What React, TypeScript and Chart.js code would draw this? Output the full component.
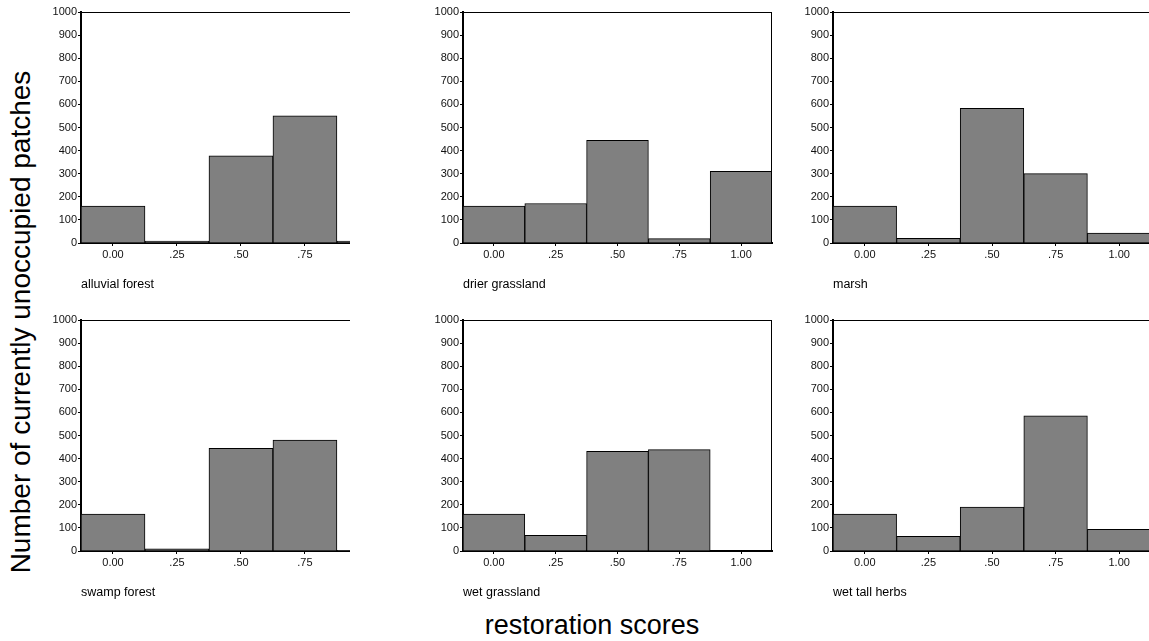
import React, { useEffect, useRef } from "react";
import { Chart, registerables } from "chart.js";

Chart.register(...registerables);

// ---- data ----
const SCORES = [0, 0.25, 0.5, 0.75, 1.0];
const SCORE_LABELS = ["0.00", ".25", ".50", ".75", "1.00"];
const Y_TICKS = [0, 100, 200, 300, 400, 500, 600, 700, 800, 900, 1000];

const alluvialForest = [160, 8, 377, 550, 8];
const drierGrassland = [160, 171, 445, 19, 310];
const marsh = [160, 20, 583, 300, 43];
const swampForest = [160, 9, 445, 480, 3];
const wetGrassland = [160, 68, 432, 439, 0];
const wetTallHerbs = [160, 64, 190, 585, 94];

const PANEL_NAMES = [
  "alluvial forest",
  "drier grassland",
  "marsh",
  "swamp forest",
  "wet grassland",
  "wet tall herbs",
];
const PANEL_VALUES = [
  alluvialForest,
  drierGrassland,
  marsh,
  swampForest,
  wetGrassland,
  wetTallHerbs,
];

const Y_TITLE = "Number of currently unoccupied patches";
const X_TITLE = "restoration scores";

// ---- layout (pixels) ----
const COLS = [
  { plotLeft: 81, plotRight: 350, xMax: 0.926, rightBorder: false },
  { plotLeft: 463, plotRight: 772, xMax: 1.125, rightBorder: true },
  { plotLeft: 833, plotRight: 1151, xMax: 1.125, rightBorder: false },
];
const ROWS = [{ plotTop: 12 }, { plotTop: 320 }];
const PLOT_H = 231;
const Y_AXIS_W = 45;
const FONT = "'Liberation Sans', Arial, Helvetica, sans-serif";

type PanelProps = {
  name: string;
  values: number[];
  col: (typeof COLS)[number];
  row: (typeof ROWS)[number];
};

function Panel({ name, values, col, row }: PanelProps) {
  const ref = useRef<HTMLCanvasElement | null>(null);
  const padTop = 12;
  const padRight = col.rightBorder ? 2 : 0;
  const xAxisH = 20;
  const padBottom = 37;
  const canvasLeft = col.plotLeft - Y_AXIS_W;
  const canvasTop = row.plotTop - padTop;
  const width = col.plotRight - canvasLeft + padRight;
  const height = padTop + PLOT_H + xAxisH + padBottom;

  useEffect(() => {
    if (!ref.current) return;
    const framePlugin = {
      id: "frameAndLabel",
      afterDatasetsDraw(chart: any) {
        const { ctx, chartArea } = chart;
        ctx.save();
        ctx.strokeStyle = "#000";
        ctx.lineWidth = 1;
        ctx.beginPath();
        ctx.moveTo(chartArea.left, chartArea.top + 0.5);
        ctx.lineTo(chartArea.right, chartArea.top + 0.5);
        if (col.rightBorder) {
          ctx.moveTo(chartArea.right - 0.5, chartArea.top);
          ctx.lineTo(chartArea.right - 0.5, chartArea.bottom);
        }
        ctx.stroke();
        ctx.restore();
      },
      afterDraw(chart: any) {
        const { ctx, chartArea } = chart;
        ctx.save();
        ctx.fillStyle = "#000";
        ctx.font = `12.5px ${FONT}`;
        ctx.textBaseline = "alphabetic";
        ctx.textAlign = "left";
        ctx.fillText(name, chartArea.left, chartArea.bottom + 45);
        ctx.restore();
      },
    };

    const chart = new Chart(ref.current, {
      type: "bar",
      data: {
        datasets: [
          {
            data: SCORES.map((x, i) => ({ x, y: values[i] })),
            backgroundColor: "#808080",
            borderColor: "#000",
            borderWidth: 1,
            borderSkipped: "bottom",
            barPercentage: 1,
            categoryPercentage: 1,
            clip: 0,
          } as any,
        ],
      },
      options: {
        animation: false,
        responsive: false,
        maintainAspectRatio: false,
        layout: { padding: { top: padTop, right: padRight, bottom: padBottom, left: 0 } },
        plugins: {
          legend: { display: false },
          tooltip: { enabled: false },
          title: { display: false },
        },
        scales: {
          x: {
            type: "linear",
            min: -0.125,
            max: col.xMax,
            offset: false,
            grid: {
              display: true,
              drawOnChartArea: false,
              drawTicks: true,
              tickLength: 3,
              color: "#000",
              offset: false,
            },
            border: { display: true, color: "#000", width: 2 },
            ticks: {
              padding: 2,
              color: "#111",
              font: { size: 11, family: FONT },
              maxRotation: 0,
              autoSkip: false,
              callback: (v: any) => {
                const i = SCORES.indexOf(Number(v));
                return i >= 0 ? SCORE_LABELS[i] : "";
              },
            },
            afterBuildTicks: (s: any) => {
              s.ticks = SCORES.filter((v) => v <= s.max).map((v) => ({ value: v }));
            },
            afterFit: (s: any) => {
              s.height = xAxisH;
            },
          },
          y: {
            type: "linear",
            min: 0,
            max: 1000,
            grid: {
              display: true,
              drawOnChartArea: false,
              drawTicks: true,
              tickLength: 3,
              color: "#000",
            },
            border: { display: true, color: "#000", width: 2 },
            ticks: {
              stepSize: 100,
              padding: 1,
              color: "#111",
              font: { size: 11, family: FONT },
              autoSkip: false,
              callback: (v: any) => {
                const i = Y_TICKS.indexOf(Number(v));
                return i >= 0 ? String(Y_TICKS[i]) : "";
              },
            },
            afterFit: (s: any) => {
              s.width = Y_AXIS_W;
            },
          },
        },
      } as any,
      plugins: [framePlugin],
    });
    return () => chart.destroy();
  }, [name, values]);

  return (
    <canvas
      ref={ref}
      width={width}
      height={height}
      style={{
        position: "absolute",
        left: canvasLeft,
        top: canvasTop,
        width,
        height,
      }}
    />
  );
}

export default function App() {
  return (
    <div
      style={{
        position: "absolute",
        left: 0,
        top: 0,
        width: 1149,
        height: 641,
        overflow: "hidden",
        background: "#fff",
        fontFamily: FONT,
      }}
    >
      {PANEL_NAMES.map((name, i) => (
        <Panel
          key={name}
          name={name}
          values={PANEL_VALUES[i]}
          col={COLS[i % 3]}
          row={ROWS[Math.floor(i / 3)]}
        />
      ))}
      <div style={{ position: "absolute", left: 21, top: 322, width: 0, height: 0 }}>
        <div
          style={{
            position: "absolute",
            left: 0,
            top: 0,
            whiteSpace: "nowrap",
            fontSize: 28,
            lineHeight: "28px",
            color: "#000",
            transform: "translate(-50%, -50%) rotate(-90deg)",
          }}
        >
          {Y_TITLE}
        </div>
      </div>
      <div style={{ position: "absolute", left: 592, top: 625, width: 0, height: 0 }}>
        <div
          style={{
            position: "absolute",
            left: 0,
            top: 0,
            whiteSpace: "nowrap",
            fontSize: 27,
            lineHeight: "27px",
            color: "#000",
            transform: "translate(-50%, -50%)",
          }}
        >
          {X_TITLE}
        </div>
      </div>
    </div>
  );
}
